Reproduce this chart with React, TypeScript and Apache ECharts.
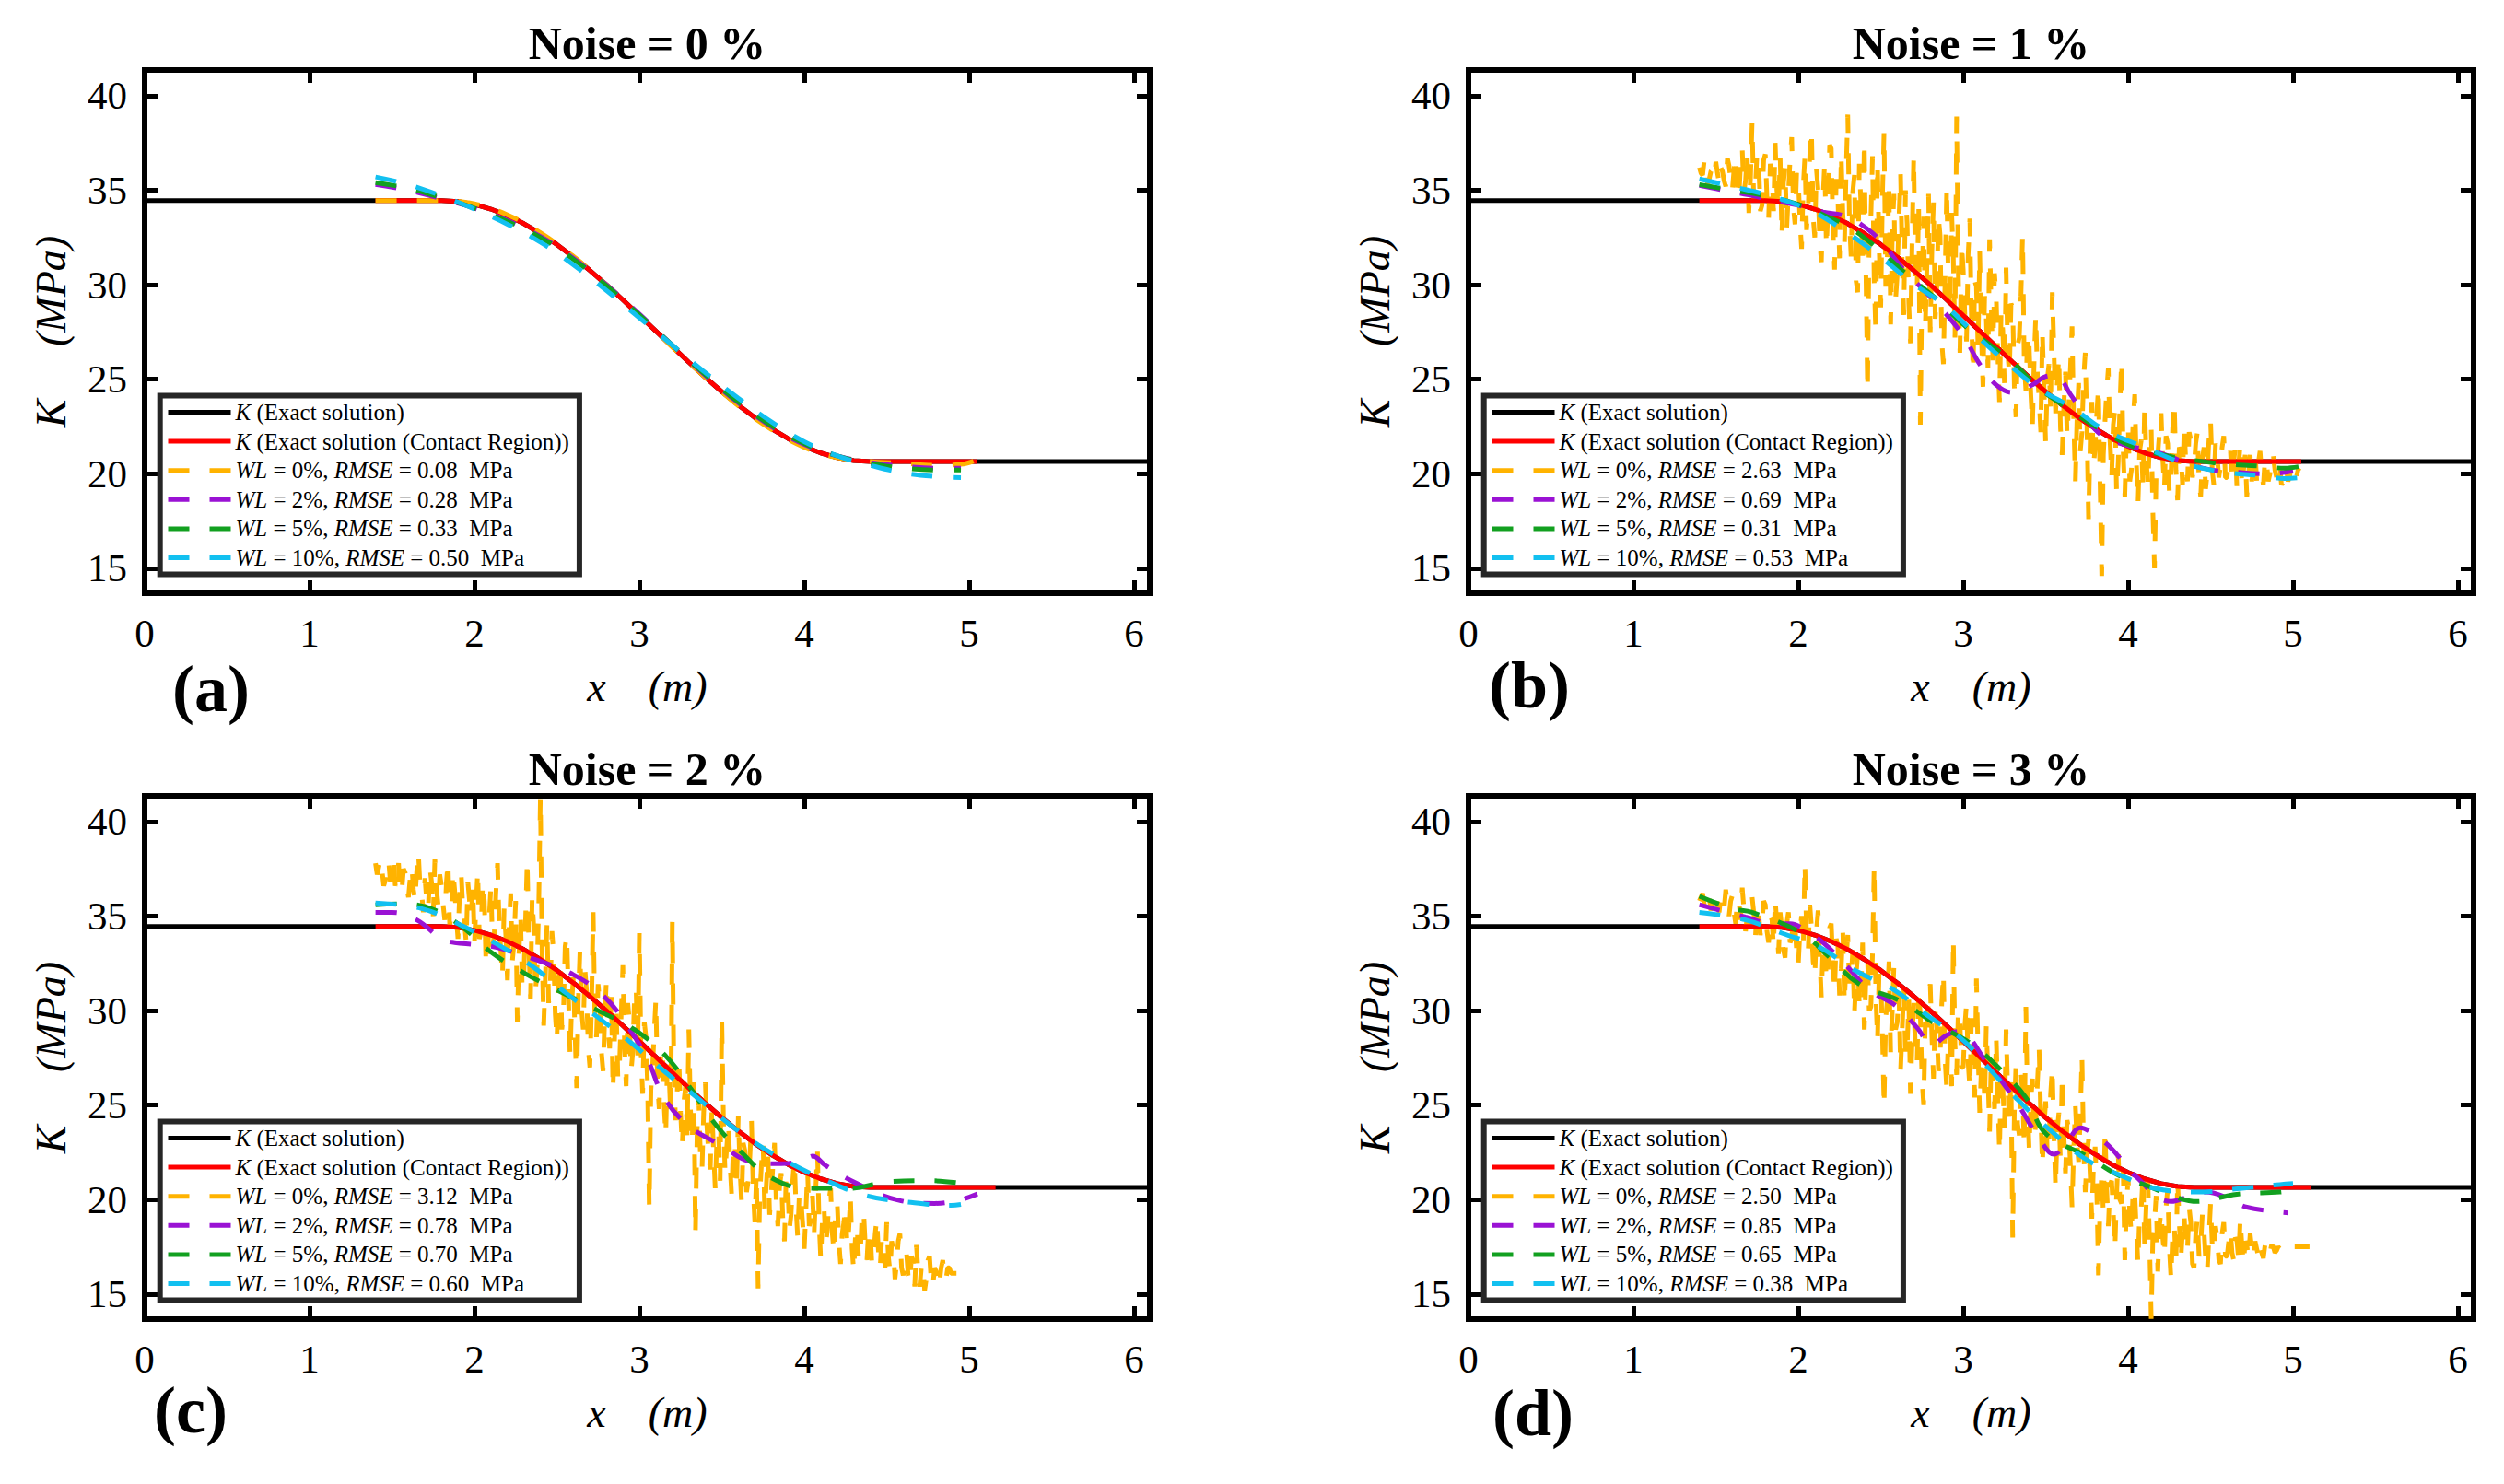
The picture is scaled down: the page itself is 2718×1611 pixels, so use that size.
import React, { useEffect, useRef } from 'react';
import * as echarts from 'echarts';

const FONT = 'Liberation Serif, Times New Roman, Times, serif';

// ---------- axes ----------
const X_MIN = 0;
const X_MAX = 6.095;
const Y_MIN = 13.68;
const Y_MAX = 41.36;
const X_TICKS = [0, 1, 2, 3, 4, 5, 6];
const Y_TICKS = [15, 20, 25, 30, 35, 40];

// ---------- texts ----------
const PANEL_TITLES = ['Noise = 0 %', 'Noise = 1 %', 'Noise = 2 %', 'Noise = 3 %'];
const PANEL_LETTERS = ['(a)', '(b)', '(c)', '(d)'];
const WL_LEVELS = ['0%', '2%', '5%', '10%'];
const RMSE_A = ['0.08', '0.28', '0.33', '0.50'];
const RMSE_B = ['2.63', '0.69', '0.31', '0.53'];
const RMSE_C = ['3.12', '0.78', '0.70', '0.60'];
const RMSE_D = ['2.50', '0.85', '0.65', '0.38'];
const NAME_EXACT = 'K (Exact solution)';
const NAME_CONTACT = 'K (Exact solution (Contact Region))';

// ---------- exact solution ----------
const K_HIGH = 34.45;
const K_LOW = 20.65;
const EXACT_X = [1.4, 1.5, 1.6, 1.7, 1.8, 1.9, 2.0, 2.1, 2.2, 2.3, 2.4, 2.5, 2.6, 2.7, 2.8, 2.9, 3.0, 3.1, 3.2, 3.3, 3.4, 3.5, 3.6, 3.7, 3.8, 3.9, 4.0, 4.1, 4.2, 4.3, 4.4];
const EXACT_Y = [34.45, 34.45, 34.45, 34.45, 34.45, 34.4, 34.25, 34.0, 33.66, 33.23, 32.71, 32.13, 31.47, 30.76, 30.0, 29.2, 28.38, 27.55, 26.72, 25.9, 25.1, 24.34, 23.63, 22.97, 22.39, 21.87, 21.44, 21.1, 20.85, 20.7, 20.65];
const CONTACT_END = [5.05, 5.05, 5.16, 5.11];

// ---------- panel (a) : noise 0 % ----------
const A_WL0 = [[1.4, 34.45], [1.6, 34.45], [1.8, 34.45], [2.0, 34.28], [2.2, 33.7], [2.4, 32.75], [2.6, 31.5], [2.8, 30.0], [3.0, 28.4], [3.2, 26.7], [3.4, 25.1], [3.6, 23.6], [3.8, 22.35], [4.0, 21.4], [4.2, 20.85], [4.4, 20.65], [4.6, 20.55], [4.8, 20.45], [4.95, 20.5], [5.05, 20.75]];
const A_WL2 = [[1.4, 35.3], [1.6, 35.0], [1.8, 34.55], [2.0, 34.05], [2.2, 33.4], [2.4, 32.55], [2.6, 31.4], [2.8, 30.0], [3.0, 28.45], [3.2, 26.8], [3.4, 25.2], [3.6, 23.75], [3.8, 22.5], [4.0, 21.55], [4.2, 20.95], [4.4, 20.6], [4.6, 20.4], [4.8, 20.3], [4.95, 20.3]];
const A_WL5 = [[1.4, 35.4], [1.6, 35.1], [1.8, 34.6], [2.0, 34.05], [2.2, 33.35], [2.4, 32.5], [2.6, 31.35], [2.8, 29.95], [3.0, 28.4], [3.2, 26.8], [3.4, 25.25], [3.6, 23.8], [3.8, 22.55], [4.0, 21.6], [4.2, 20.95], [4.4, 20.55], [4.6, 20.3], [4.8, 20.2], [4.95, 20.2]];
const A_WL10 = [[1.4, 35.7], [1.6, 35.3], [1.8, 34.7], [2.0, 34.0], [2.2, 33.2], [2.4, 32.25], [2.6, 31.05], [2.8, 29.7], [3.0, 28.25], [3.2, 26.8], [3.4, 25.35], [3.6, 24.0], [3.8, 22.75], [4.0, 21.7], [4.2, 20.95], [4.4, 20.45], [4.6, 20.05], [4.8, 19.85], [4.95, 19.8]];

// ---------- noisy WL = 0 % reconstructions, sampled at x = 1.40, 1.41, 1.42, ... ----------
const NOISE_X_START = 1.4;
const NOISE_X_STEP = 0.01;
const B_WL0_Y = [
  36.2, 35.9, 35.8, 36.6, 36.4, 35.3, 35.6, 36.0, 36.1, 35.7,
  36.5, 35.9, 35.4, 36.2, 36.0, 35.5, 35.2, 36.7, 36.3, 35.6,
  35.0, 36.1, 36.8, 35.2, 34.6, 36.4, 37.2, 34.9, 35.5, 36.9,
  33.8, 35.6, 38.6, 34.4, 35.2, 37.0, 36.4, 33.9, 34.2, 36.6,
  36.9, 34.6, 33.5, 36.4, 35.8, 33.9, 37.5, 35.0, 34.0, 36.8,
  32.6, 35.4, 36.2, 33.0, 34.8, 36.6, 37.8, 34.1, 33.2, 35.9,
  35.6, 33.4, 31.9, 35.2, 36.8, 32.9, 34.1, 37.0, 38.2, 33.6,
  32.5, 36.1, 35.0, 32.2, 31.2, 34.6, 36.5, 32.0, 33.8, 37.4,
  37.2, 33.0, 30.8, 35.6, 34.6, 31.4, 36.9, 33.8, 32.2, 36.0,
  39.0, 33.4, 31.5, 34.9, 35.8, 30.2, 29.6, 36.4, 34.2, 31.1,
  37.6, 30.6, 24.4, 32.8, 33.5, 36.8, 30.2, 27.4, 36.4, 32.0,
  28.8, 34.6, 38.1, 29.9, 31.6, 35.4, 27.9, 32.6, 34.8, 29.2,
  30.5, 33.4, 35.9, 31.2, 28.4, 35.0, 33.2, 29.0, 26.9, 32.4,
  36.8, 30.6, 29.7, 34.2, 22.6, 30.0, 33.6, 27.8, 31.0, 34.8,
  27.5, 31.8, 34.4, 28.2, 29.8, 33.6, 32.6, 27.0, 25.8, 30.4,
  35.2, 30.0, 28.6, 33.8, 31.4, 27.2, 38.9, 30.8, 26.4, 32.2,
  30.8, 28.4, 27.0, 31.6, 33.5, 28.0, 25.4, 30.2, 29.9, 26.6,
  31.8, 27.4, 24.6, 29.4, 28.2, 25.6, 32.4, 28.8, 26.0, 30.6,
  29.4, 26.2, 23.8, 28.6, 27.6, 24.8, 30.9, 26.4, 25.2, 29.0,
  28.8, 24.6, 23.0, 26.8, 27.2, 29.4, 32.6, 25.8, 24.4, 27.4,
  26.8, 24.2, 22.5, 26.0, 28.4, 25.2, 24.0, 22.2, 27.5, 24.6,
  21.6, 25.0, 25.8, 23.4, 29.6, 26.6, 23.2, 24.8, 26.2, 22.4,
  21.0, 23.6, 25.4, 22.0, 23.6, 25.6, 27.8, 22.8, 19.6, 23.0,
  24.8, 21.2, 22.2, 25.0, 26.4, 22.6, 17.6, 21.8, 23.8, 20.4,
  21.4, 23.2, 24.6, 19.4, 14.6, 21.0, 22.8, 24.4, 25.6, 21.8,
  19.8, 22.6, 23.4, 19.0, 20.6, 23.6, 26.0, 21.2, 18.8, 22.0,
  22.6, 19.6, 20.2, 22.8, 24.2, 20.6, 18.4, 21.2, 21.8, 19.2,
  23.6, 20.8, 19.4, 21.6, 22.4, 18.0, 15.0, 20.0, 21.0, 22.2,
  23.2, 20.8, 19.2, 22.0, 21.6, 19.0, 20.0, 22.4, 23.8, 20.2,
  18.6, 21.4, 21.2, 19.4, 22.6, 20.6, 19.6, 22.2, 21.8, 19.8,
  20.4, 21.6, 22.2, 19.6, 18.8, 20.8, 21.4, 19.2, 20.0, 21.8,
  22.8, 20.2, 19.4, 21.6, 21.0, 19.8, 20.4, 21.4, 22.0, 19.8,
  19.8, 20.8, 21.2, 19.6, 20.6, 21.4, 19.2, 20.4, 21.6, 19.4,
  20.2, 21.0, 18.8, 20.0, 21.0, 19.6, 20.4, 21.2, 19.6, 20.6,
  21.2, 20.0, 19.4, 20.8, 20.6, 19.6, 20.0, 21.0, 21.0, 20.2,
  19.8, 20.6, 20.4, 19.4, 19.6, 20.4, 20.2, 19.6, 19.9, 20.3,
  20.1, 19.7, 19.8, 20.2, 20.3,
];
const C_WL0_Y = [
  37.8, 37.2, 37.6, 38.0, 37.4, 36.6, 36.9, 37.6, 37.9, 36.8,
  37.2, 37.9, 36.6, 37.0, 37.8, 36.2, 36.4, 37.5, 37.3, 36.5,
  36.0, 37.0, 37.6, 36.4, 35.8, 37.4, 38.4, 36.6, 36.2, 35.2,
  37.0, 35.8, 35.4, 37.6, 36.8, 35.0, 38.0, 36.4, 35.6, 37.2,
  36.6, 35.6, 34.8, 36.8, 37.9, 34.4, 35.2, 37.4, 36.4, 35.0,
  33.8, 36.2, 37.2, 35.4, 34.6, 33.6, 36.8, 35.8, 35.0, 36.6,
  33.6, 35.6, 37.4, 33.8, 34.2, 36.8, 35.8, 32.4, 32.8, 35.0,
  36.6, 33.4, 34.0, 36.2, 37.8, 34.6, 33.2, 31.8, 35.4, 34.0,
  31.6, 34.4, 36.2, 32.6, 33.6, 35.8, 29.4, 33.0, 35.0, 31.2,
  32.0, 34.8, 38.0, 33.4, 30.6, 36.0, 34.4, 31.0, 32.2, 35.6,
  41.3, 33.2, 29.2, 31.8, 34.6, 30.4, 31.4, 34.2, 33.0, 29.8,
  28.4, 31.6, 32.6, 29.0, 30.0, 33.4, 34.0, 30.8, 27.6, 30.4,
  31.8, 28.8, 25.9, 30.6, 33.2, 30.0, 29.0, 32.2, 31.0, 28.0,
  27.0, 30.2, 35.2, 29.8, 28.6, 31.4, 30.4, 27.8, 26.8, 29.6,
  31.6, 29.0, 28.0, 30.8, 25.8, 28.6, 30.2, 26.4, 27.2, 29.8,
  32.4, 28.2, 26.0, 30.4, 29.4, 26.8, 27.8, 30.6, 31.2, 27.6,
  34.1, 27.8, 25.6, 29.4, 28.6, 26.0, 19.6, 25.8, 27.0, 28.8,
  30.6, 26.2, 24.8, 27.6, 28.0, 25.0, 23.4, 27.2, 26.6, 24.4,
  34.7, 26.4, 24.2, 25.8, 27.4, 24.6, 22.8, 25.2, 26.0, 23.4,
  29.0, 24.8, 23.0, 26.2, 18.2, 23.6, 25.4, 22.4, 21.6, 24.6,
  26.2, 23.8, 22.4, 21.6, 24.8, 22.6, 20.6, 23.2, 23.6, 21.0,
  29.5, 24.2, 21.4, 22.8, 24.0, 21.8, 20.2, 23.0, 22.8, 20.8,
  24.4, 21.6, 19.8, 23.0, 22.6, 20.4, 21.0, 22.2, 24.2, 20.6,
  18.8, 21.4, 15.3, 20.2, 21.8, 23.0, 19.4, 20.8, 22.4, 19.2,
  20.4, 21.8, 23.0, 19.8, 18.6, 20.6, 21.4, 19.0, 17.8, 21.2,
  20.8, 18.4, 19.2, 21.0, 22.2, 19.6, 18.0, 20.4, 20.0, 18.8,
  17.4, 19.4, 21.6, 18.6, 19.0, 20.2, 18.2, 20.6, 22.6, 18.8,
  16.8, 19.0, 19.6, 17.6, 18.4, 20.0, 20.6, 18.2, 17.2, 19.4,
  19.8, 17.8, 16.6, 18.2, 18.8, 19.6, 17.6, 18.4, 20.2, 17.4,
  16.2, 18.0, 18.6, 16.8, 17.0, 19.2, 19.4, 17.6, 16.8, 18.4,
  18.4, 16.6, 17.0, 18.2, 19.0, 17.2, 16.4, 18.0, 17.8, 16.4,
  18.8, 17.0, 16.2, 17.8, 17.4, 15.8, 16.6, 17.8, 18.2, 16.4,
  16.0, 16.8, 17.2, 16.0, 15.6, 17.0, 16.8, 15.4, 17.6, 16.2,
  15.4, 16.4, 16.6, 15.2, 15.8, 16.8, 17.0, 15.6, 15.4, 16.4,
  16.2, 15.4, 15.6, 16.4, 16.8, 15.8, 15.8, 16.4, 16.4, 16.1,
  16.1, 16.1, 16.1, 16.1, 16.1, 16.1, 16.1, 16.1, 16.1, 16.1,
  16.1, 16.1, 16.1, 16.1, 16.1,
];
const D_WL0_Y = [
  35.8, 36.0, 36.2, 35.6, 35.4, 36.1, 36.0, 35.3, 35.6, 36.2,
  36.3, 35.6, 35.2, 36.0, 35.9, 35.4, 36.4, 35.7, 35.0, 35.8,
  36.1, 35.2, 34.6, 35.9, 35.8, 34.8, 36.5, 35.4, 34.2, 35.0,
  35.5, 34.4, 36.0, 35.2, 33.9, 35.6, 35.2, 34.0, 34.6, 35.8,
  35.6, 34.2, 33.6, 35.0, 34.8, 33.4, 35.9, 34.6, 33.0, 35.2,
  34.4, 33.2, 32.8, 34.6, 35.2, 33.6, 33.8, 35.0, 34.6, 33.0,
  32.4, 34.2, 35.0, 33.4, 37.8, 34.0, 33.2, 35.6, 34.4, 32.6,
  31.8, 34.2, 35.3, 32.8, 30.7, 33.4, 33.6, 31.6, 32.0, 34.4,
  34.6, 32.4, 31.0, 33.8, 33.4, 30.8, 32.2, 34.2, 30.4, 32.6,
  34.0, 31.4, 31.6, 33.2, 29.8, 31.8, 33.0, 30.2, 31.2, 33.6,
  29.0, 31.6, 32.6, 30.0, 30.2, 33.0, 37.7, 30.8, 28.4, 32.0,
  31.8, 28.8, 24.9, 29.6, 30.6, 32.6, 27.8, 30.0, 32.4, 29.0,
  29.4, 31.0, 26.8, 29.0, 31.2, 27.6, 28.0, 30.6, 25.6, 28.4,
  30.4, 28.0, 27.2, 31.0, 29.8, 26.4, 25.0, 29.4, 28.6, 30.8,
  31.4, 28.6, 26.4, 30.0, 29.0, 26.8, 27.6, 30.4, 32.0, 27.4,
  25.8, 28.8, 28.4, 26.0, 33.8, 28.2, 26.6, 30.0, 29.6, 27.0,
  27.0, 29.2, 30.4, 27.2, 25.9, 29.6, 28.2, 25.4, 31.7, 27.8,
  24.6, 27.0, 27.4, 25.2, 29.2, 26.6, 23.6, 27.6, 26.8, 24.8,
  28.6, 25.4, 22.5, 26.8, 26.0, 23.8, 29.0, 25.8, 24.2, 26.4,
  18.0, 24.6, 27.2, 24.0, 23.4, 26.8, 25.6, 22.8, 30.2, 25.0,
  22.6, 25.2, 26.4, 23.2, 24.0, 26.2, 28.0, 24.4, 21.8, 23.8,
  25.2, 22.4, 23.0, 25.6, 27.0, 23.4, 20.6, 23.6, 24.6, 22.0,
  26.6, 23.6, 21.4, 24.2, 23.8, 21.8, 19.6, 22.6, 25.0, 23.0,
  22.0, 24.4, 27.6, 22.8, 20.4, 22.2, 23.2, 21.2, 19.0, 21.8,
  22.8, 20.4, 16.0, 19.8, 21.4, 19.2, 23.7, 20.6, 18.6, 20.8,
  21.0, 19.4, 17.4, 20.2, 22.4, 20.0, 19.8, 21.6, 16.8, 19.6,
  21.2, 19.2, 18.2, 20.6, 20.4, 18.4, 16.6, 19.4, 19.6, 21.4,
  17.6, 19.8, 21.0, 17.8, 13.7, 18.0, 18.8, 20.2, 16.2, 18.6,
  19.4, 18.0, 17.0, 19.6, 20.6, 17.4, 15.8, 18.2, 18.6, 16.6,
  21.1, 18.8, 16.8, 18.4, 19.2, 17.2, 17.4, 19.6, 18.8, 16.6,
  16.4, 18.2, 19.0, 17.0, 17.6, 19.2, 18.4, 16.8, 16.2, 18.0,
  19.8, 17.6, 17.2, 18.6, 18.0, 16.8, 16.6, 18.2, 18.8, 17.0,
  17.0, 17.8, 18.4, 17.2, 16.8, 18.0, 17.8, 16.8, 19.0, 17.6,
  16.6, 17.8, 17.6, 16.9, 18.2, 17.4, 17.0, 17.8, 17.4, 17.0,
  17.6, 17.2, 16.9, 17.6, 17.4, 17.0, 17.2, 17.6, 17.5, 17.2,
  17.3, 17.5, 17.4, 17.3, 17.5, 17.4, 17.4, 17.5, 17.5, 17.5,
  17.5, 17.5, 17.5, 17.5, 17.5, 17.5, 17.5, 17.5, 17.5, 17.5,
  17.5,
];

// ---------- panel (b) : noise 1 % ----------
const B_WL2 = [[1.4, 35.25], [1.55, 35.0], [1.7, 34.75], [1.85, 34.45], [2.0, 34.2], [2.15, 33.85], [2.28, 33.65], [2.38, 33.2], [2.49, 32.4], [2.64, 30.8], [2.84, 29.0], [3.0, 27.3], [3.1, 25.8], [3.2, 24.7], [3.3, 24.3], [3.42, 24.7], [3.5, 25.15], [3.56, 25.2], [3.65, 24.2], [3.75, 22.9], [3.83, 22.1], [3.95, 21.6], [4.19, 21.1], [4.45, 20.3], [4.7, 20.05], [4.85, 20.0], [5.0, 20.15]];
const B_WL5 = [[1.4, 35.3], [1.6, 35.0], [1.8, 34.7], [2.0, 34.25], [2.2, 33.5], [2.3, 33.1], [2.47, 32.0], [2.65, 30.6], [2.83, 29.3], [3.0, 27.9], [3.15, 26.9], [3.3, 25.9], [3.45, 24.6], [3.61, 23.6], [3.84, 22.3], [4.04, 21.4], [4.27, 20.9], [4.55, 20.55], [4.8, 20.4], [4.95, 20.3], [5.05, 20.4]];
const B_WL10 = [[1.4, 35.6], [1.6, 35.2], [1.83, 34.7], [2.08, 33.9], [2.28, 32.85], [2.48, 31.6], [2.69, 30.1], [2.89, 28.9], [3.07, 27.4], [3.26, 25.9], [3.46, 24.5], [3.66, 23.5], [3.86, 22.3], [4.1, 21.4], [4.34, 20.55], [4.57, 20.1], [4.8, 19.9], [4.95, 19.75], [5.05, 19.8]];

// ---------- panel (c) : noise 2 % ----------
const C_WL2 = [[1.4, 35.2], [1.5, 35.2], [1.65, 34.8], [1.8, 33.8], [1.88, 33.6], [2.0, 33.5], [2.13, 33.35], [2.37, 32.7], [2.6, 31.9], [2.78, 30.8], [2.92, 29.3], [3.05, 27.4], [3.15, 25.4], [3.3, 23.9], [3.5, 22.85], [3.68, 22.0], [3.86, 21.9], [4.0, 22.1], [4.05, 22.3], [4.13, 21.8], [4.32, 20.85], [4.57, 19.97], [4.79, 19.8], [4.95, 20.0], [5.05, 20.3]];
const C_WL5 = [[1.4, 35.6], [1.55, 35.65], [1.7, 35.5], [1.9, 34.6], [2.1, 33.1], [2.3, 32.0], [2.52, 31.0], [2.75, 30.0], [2.97, 29.0], [3.16, 27.6], [3.31, 25.9], [3.46, 24.0], [3.62, 22.5], [3.79, 21.2], [4.02, 20.6], [4.27, 20.6], [4.52, 20.95], [4.77, 21.0], [5.0, 20.8]];
const C_WL10 = [[1.4, 35.7], [1.68, 35.4], [1.9, 34.6], [2.12, 33.6], [2.35, 32.35], [2.56, 30.9], [2.77, 29.5], [2.95, 28.3], [3.15, 26.8], [3.35, 25.4], [3.53, 24.1], [3.72, 22.9], [3.92, 21.9], [4.15, 20.95], [4.38, 20.2], [4.63, 19.87], [4.89, 19.7], [4.95, 19.75]];

// ---------- panel (d) : noise 3 % ----------
const D_WL2 = [[1.4, 35.6], [1.68, 34.95], [1.85, 34.6], [1.95, 34.6], [2.05, 34.2], [2.15, 33.6], [2.3, 32.3], [2.43, 31.1], [2.6, 30.2], [2.72, 29.1], [2.81, 28.2], [2.9, 28.7], [2.97, 28.9], [3.14, 27.3], [3.32, 25.2], [3.45, 23.4], [3.55, 22.4], [3.64, 23.2], [3.71, 23.8], [3.8, 23.4], [3.9, 22.7], [4.05, 21.2], [4.26, 19.9], [4.38, 20.2], [4.47, 20.4], [4.6, 20.1], [4.72, 19.6], [4.97, 19.3]];
const D_WL5 = [[1.4, 36.05], [1.6, 35.4], [1.72, 35.2], [2.02, 34.1], [2.18, 32.9], [2.37, 31.4], [2.62, 30.5], [2.83, 29.3], [3.04, 28.3], [3.2, 27.1], [3.38, 25.4], [3.5, 23.5], [3.75, 22.3], [3.94, 21.3], [4.11, 20.75], [4.3, 20.1], [4.42, 19.9], [4.55, 20.1], [4.67, 20.3], [4.92, 20.4], [5.0, 20.5]];
const D_WL10 = [[1.4, 35.2], [1.68, 34.8], [1.9, 34.1], [2.12, 33.4], [2.35, 32.1], [2.58, 31.1], [2.79, 29.7], [2.99, 28.5], [3.15, 27.0], [3.34, 25.2], [3.55, 23.5], [3.75, 22.1], [3.95, 21.3], [4.16, 20.6], [4.42, 20.4], [4.69, 20.6], [4.92, 20.8], [5.0, 20.85]];

// ---------- styles ----------
const COLORS = { exact: '#000000', contact: '#FF0000', wl: ['#FFB300', '#9A12D4', '#12A020', '#12C0F0'] };
const DASH = [23, 22];

// ---------- layout ----------
const GRID_LEFT = [157, 1594];
const GRID_TOP = [76, 864];
const GRID_W = 1091;
const GRID_H = 568;
const LETTER_POS = [[229, 748], [1660, 744], [207, 1531], [1664, 1534]];

function noisePairs(ys: number[]) {
  return ys.map((y, i) => [Math.round((NOISE_X_START + i * NOISE_X_STEP) * 100) / 100, y]);
}

function buildOption() {
  const exactPairs = EXACT_X.map((x, i) => [x, EXACT_Y[i]]);
  const panels = [
    { rmse: RMSE_A, wl: [A_WL0, A_WL2, A_WL5, A_WL10], noisy: false },
    { rmse: RMSE_B, wl: [noisePairs(B_WL0_Y), B_WL2, B_WL5, B_WL10], noisy: true },
    { rmse: RMSE_C, wl: [noisePairs(C_WL0_Y), C_WL2, C_WL5, C_WL10], noisy: true },
    { rmse: RMSE_D, wl: [noisePairs(D_WL0_Y), D_WL2, D_WL5, D_WL10], noisy: true },
  ];

  const grid: any[] = [];
  const xAxis: any[] = [];
  const yAxis: any[] = [];
  const series: any[] = [];
  const legend: any[] = [];
  const graphic: any[] = [];

  const axisLine = { show: true, onZero: false, lineStyle: { color: '#000', width: 6, cap: 'square' } };
  const labelStyle = { color: '#000', fontFamily: FONT, fontSize: 43 };

  panels.forEach((p, pi) => {
    const col = pi % 2;
    const row = Math.floor(pi / 2);
    const left = GRID_LEFT[col];
    const top = GRID_TOP[row];
    grid.push({ left, top, width: GRID_W, height: GRID_H, containLabel: false });

    ['bottom', 'top'].forEach((pos) => {
      xAxis.push({
        type: 'value', gridIndex: pi, position: pos, min: X_MIN, max: X_MAX,
        axisLine,
        axisTick: { show: true, inside: true, length: 14, lineStyle: { color: '#000', width: 5 }, customValues: X_TICKS },
        axisLabel: { show: pos === 'bottom', customValues: X_TICKS, margin: 22, ...labelStyle },
        splitLine: { show: false },
      });
    });
    ['left', 'right'].forEach((pos) => {
      yAxis.push({
        type: 'value', gridIndex: pi, position: pos, min: Y_MIN, max: Y_MAX,
        axisLine,
        axisTick: { show: true, inside: true, length: 14, lineStyle: { color: '#000', width: 5 }, customValues: Y_TICKS },
        axisLabel: { show: pos === 'left', customValues: Y_TICKS, margin: 19, ...labelStyle },
        splitLine: { show: false },
      });
    });

    const xi = pi * 2;
    const yi = pi * 2;
    const base = { type: 'line', xAxisIndex: xi, yAxisIndex: yi, symbol: 'none', showSymbol: false, silent: true, animation: false, emphasis: { disabled: true } };
    const wlNames = WL_LEVELS.map((w, k) => `WL = ${w}, RMSE = ${p.rmse[k]}  MPa`);

    series.push({
      ...base, name: NAME_EXACT,
      data: [[X_MIN, K_HIGH], ...exactPairs, [X_MAX, K_LOW]],
      lineStyle: { color: COLORS.exact, width: 5 }, itemStyle: { color: COLORS.exact },
    });
    const orange = {
      ...base, name: wlNames[0], data: p.wl[0], smooth: p.noisy ? false : 0.4,
      lineStyle: { color: COLORS.wl[0], width: 5, type: DASH }, itemStyle: { color: COLORS.wl[0] },
    };
    if (p.noisy) series.push(orange);
    series.push({
      ...base, name: NAME_CONTACT,
      data: [...exactPairs, [CONTACT_END[pi], K_LOW]],
      lineStyle: { color: COLORS.contact, width: 5 }, itemStyle: { color: COLORS.contact },
    });
    if (!p.noisy) series.push(orange);
    for (let k = 1; k < 4; k++) {
      series.push({
        ...base, name: wlNames[k], data: p.wl[k], smooth: 0.4,
        lineStyle: { color: COLORS.wl[k], width: 5, type: DASH }, itemStyle: { color: COLORS.wl[k] },
      });
    }

    legend.push({
      orient: 'vertical', left: left + 16.7, top: top + 353.5,
      data: [NAME_EXACT, NAME_CONTACT, ...wlNames],
      itemWidth: 68, itemHeight: 14, itemGap: 6.6,
      padding: [5.5, 11, 5.5, 6.3],
      borderColor: '#262626', borderWidth: 6, backgroundColor: '#ffffff',
      selectedMode: false, z: 10,
      lineStyle: { width: 5 },
      itemStyle: { color: 'rgba(0,0,0,0)', borderWidth: 0, opacity: 0 },
      textStyle: {
        color: '#000', fontFamily: FONT, fontSize: 25, lineHeight: 24,
        rich: { i: { color: '#000', fontFamily: FONT, fontSize: 25, lineHeight: 24, fontStyle: 'italic' } },
      },
      formatter: (name: string) => name.replace(/^K /, '{i|K} ').replace('WL', '{i|WL}').replace('RMSE', '{i|RMSE}'),
    });

    const cx = left + GRID_W / 2;
    graphic.push({
      type: 'text', x: cx, y: top - 29, silent: true,
      style: { text: PANEL_TITLES[pi], fill: '#000', fontFamily: FONT, fontSize: 50, fontWeight: 'bold', align: 'center', verticalAlign: 'middle' },
    });
    graphic.push({
      type: 'text', x: cx, y: top + 669, silent: true,
      style: { text: 'x    (m)', fill: '#000', fontFamily: FONT, fontSize: 46, fontStyle: 'italic', align: 'center', verticalAlign: 'middle' },
    });
    graphic.push({
      type: 'text', x: left - 102, y: top + GRID_H / 2, rotation: Math.PI / 2, silent: true,
      style: { text: 'K     (MPa)', fill: '#000', fontFamily: FONT, fontSize: 46, fontStyle: 'italic', align: 'center', verticalAlign: 'middle' },
    });
    graphic.push({
      type: 'text', x: LETTER_POS[pi][0], y: LETTER_POS[pi][1], silent: true,
      style: { text: PANEL_LETTERS[pi], fill: '#000', fontFamily: FONT, fontSize: 72, fontWeight: 'bold', align: 'center', verticalAlign: 'middle' },
    });
  });

  return { animation: false, backgroundColor: '#ffffff', grid, xAxis, yAxis, series, legend, graphic };
}

export default function App() {
  const ref = useRef<HTMLDivElement>(null);
  useEffect(() => {
    if (!ref.current) return;
    const chart = echarts.init(ref.current, undefined, { renderer: 'svg' });
    chart.setOption(buildOption() as any);
    return () => chart.dispose();
  }, []);
  return (
    <div
      ref={ref}
      style={{ position: 'fixed', left: 0, top: 0, width: 2718, height: 1611, background: '#ffffff' }}
    />
  );
}
